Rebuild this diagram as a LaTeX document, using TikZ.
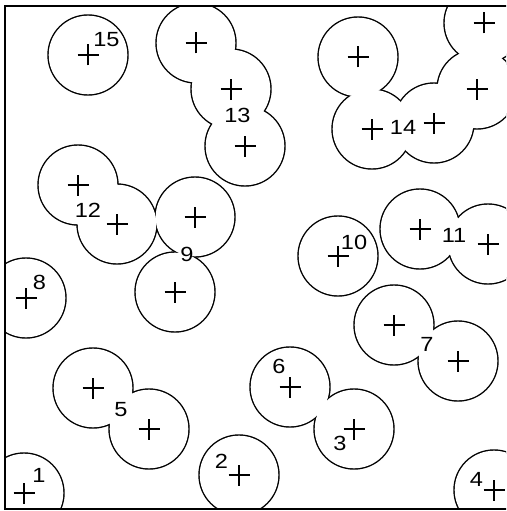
\documentclass[tikz,border=0pt]{standalone}
\usepackage{fontspec}
\newfontfamily\labfont[FakeStretch=1.15]{Liberation Sans}
\begin{document}
\begin{tikzpicture}[x=1pt,y=-1pt,
  disc/.style={line width=2.8pt},
  hole/.style={fill=white},
  cross/.style={line width=1.6pt},
  frame/.style={line width=2pt},
  lab/.style={font=\labfont\fontsize{20.5}{20.5}\selectfont, inner sep=0pt}]
\useasboundingbox (0,0) rectangle (506,511);
\clip (0,0) rectangle (506,511);
\def\centers{24/493, 239/475, 354/429, 494/490, 93/388, 149/429, 290/387,
  394/325, 458/361, 26/298, 195/217, 175/292, 338/256, 420/229, 488/244,
  78/185, 117/224, 196/43, 231/89, 245/146, 358/57, 372/129, 434/123,
  477/89, 484/23, 88/55}
\begin{scope}
  \clip (5,6) rectangle (520,509);
  \foreach \x/\y in \centers { \draw[disc] (\x,\y) circle[radius=39.3pt]; }
  \foreach \x/\y in \centers { \fill[hole] (\x,\y) circle[radius=39.3pt]; }
\end{scope}
\foreach \x/\y in \centers {
  \coordinate (c) at (\x,\y);
  \draw[cross] ([xshift=-10.5pt]c) -- ([xshift=10.5pt]c)
               ([yshift=-10.5pt]c) -- ([yshift=10.5pt]c);
}
\draw[frame] (5,6) rectangle (512,509);
\node[lab] (l1) at (39,475) {1};
\node[lab] (l2) at (221.5,461) {2};
\node[lab] (l3) at (340,443) {3};
\node[lab] (l4) at (476.5,479.5) {4};
\node[lab] (l5) at (121,410) {5};
\node[lab] (l6) at (279,366) {6};
\node[lab] (l7) at (427,344.5) {7};
\node[lab] (l8) at (39.5,282.5) {8};
\node[lab] (l9) at (187,254) {9};
\node[lab] (l10) at (354,242) {10};
\node[lab] (l11) at (454,235) {11};
\node[lab] (l12) at (88,210) {12};
\node[lab] (l13) at (237.5,115) {13};
\node[lab] (l14) at (403,127) {14};
\node[lab] (l15) at (106.5,40) {15};
\end{tikzpicture}
\end{document}
